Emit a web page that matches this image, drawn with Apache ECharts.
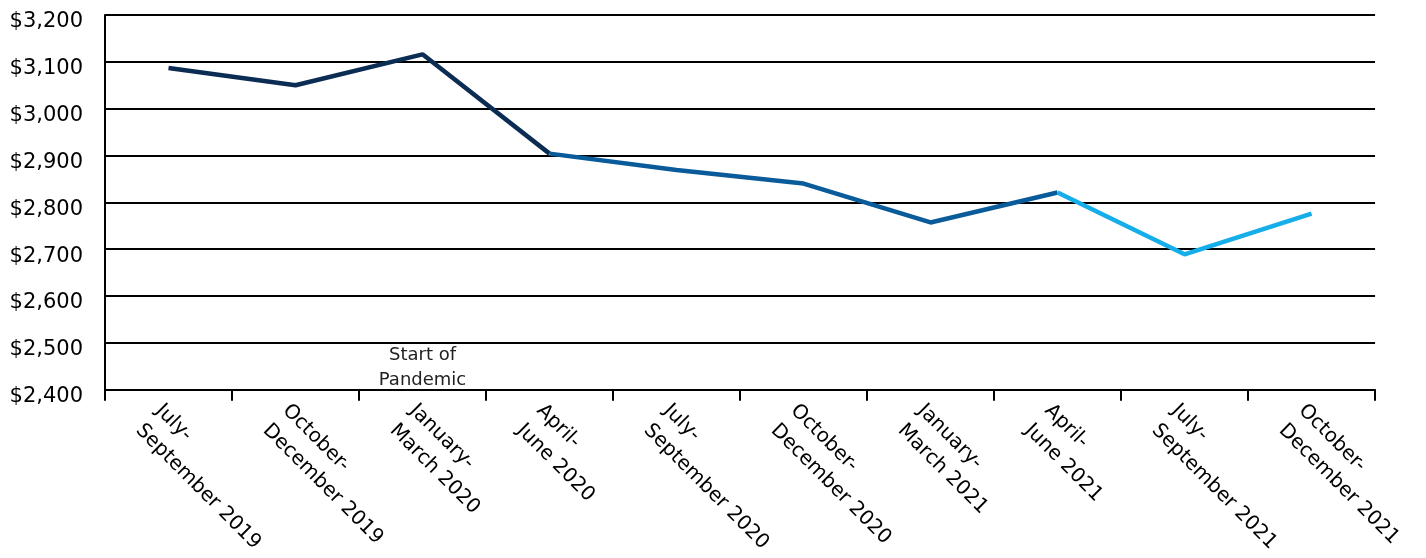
<!DOCTYPE html>
<html lang="en">
<head>
    <meta charset="UTF-8">
    <title>Quarterly amount</title>
    <script type="text/javascript" src="https://cdn.jsdelivr.net/npm/echarts@6/dist/echarts.min.js"></script>
    <style>
        html, body { margin: 0; padding: 0; background: #fff; overflow: hidden; }
        #line { width: 1426px; height: 558px; }
    </style>
</head>
<body>
<div id="line"></div>
<script type="text/javascript">
    var quarters = ['July-\nSeptember 2019', 'October-\nDecember 2019', 'January-\nMarch 2020', 'April-\nJune 2020',
        'July-\nSeptember 2020', 'October-\nDecember 2020', 'January-\nMarch 2021', 'April-\nJune 2021',
        'July-\nSeptember 2021', 'October-\nDecember 2021'];
    var amounts = [3087, 3050, 3116, 2904, 2869, 2840, 2757, 2821, 2689, 2776];
    // index ranges of each coloured stretch of the line
    var segments = [[0, 3], [3, 7], [7, 9]];
    var segmentColors = ['#0b2d54', '#0a5b9a', '#15aee9'];
    var noteText = 'Start of\nPandemic';
    var noteAt = [quarters[2], 2447];

    function money(v) {
        return '$' + String(v).replace(/\B(?=(\d{3})+(?!\d))/g, ',');
    }

    var chart = echarts.init(document.getElementById('line'));

    var series = segments.map(function (s, i) {
        var data = amounts.map(function (v, j) {
            return (j >= s[0] && j <= s[1]) ? v : null;
        });
        var item = {
            type: 'line',
            data: data,
            symbol: 'none',
            silent: true,
            connectNulls: false,
            lineStyle: { color: segmentColors[i], width: 4.5, cap: 'butt' },
            z: 3 + i
        };
        if (i === 0) {
            item.markPoint = {
                symbol: 'circle',
                symbolSize: 0,
                silent: true,
                label: {
                    show: true,
                    formatter: noteText,
                    color: '#222',
                    fontSize: 18,
                    lineHeight: 25,
                    fontFamily: 'DejaVu Sans',
                    position: 'inside'
                },
                data: [{ coord: noteAt }]
            };
        }
        return item;
    });

    var option = {
        animation: false,
        grid: { left: 105, right: 21, top: 15, bottom: 160 },
        xAxis: {
            type: 'category',
            data: quarters,
            boundaryGap: true,
            axisLine: { lineStyle: { color: '#000', width: 2 } },
            axisTick: { show: true, length: 11, lineStyle: { color: '#000', width: 2 } },
            axisLabel: {
                rotate: -45,
                interval: 0,
                align: 'left',
                verticalAlign: 'top',
                margin: 8,
                color: '#000',
                fontSize: 20,
                lineHeight: 28,
                fontFamily: 'DejaVu Sans'
            }
        },
        yAxis: {
            type: 'value',
            min: 2400,
            max: 3200,
            interval: 100,
            axisLine: { show: true, lineStyle: { color: '#000', width: 2 } },
            axisTick: { show: false },
            splitLine: { show: true, lineStyle: { color: '#000', width: 2 } },
            axisLabel: {
                formatter: money,
                margin: 22,
                color: '#000',
                fontSize: 21,
                fontFamily: 'DejaVu Sans',
                verticalAlign: 'top',
                lineHeight: 14
            }
        },
        series: series
    };

    chart.setOption(option);
</script>
</body>
</html>
